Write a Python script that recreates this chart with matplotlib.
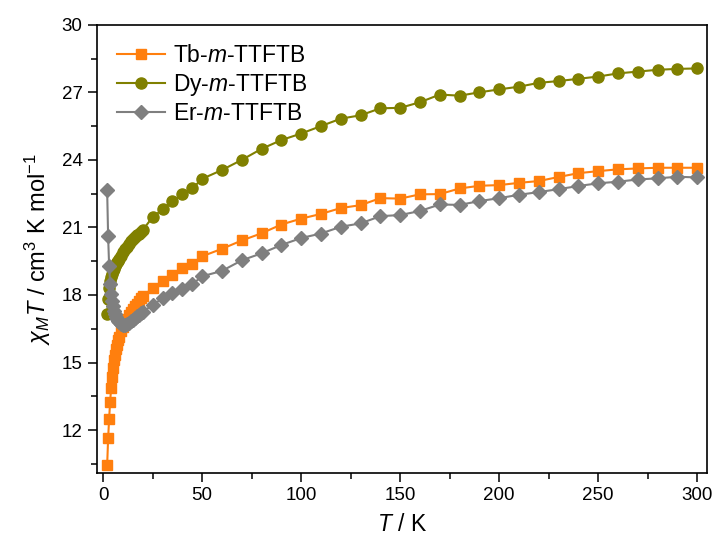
import matplotlib
matplotlib.use("Agg")
import matplotlib.pyplot as plt
from matplotlib.ticker import MultipleLocator

plt.rcParams["font.family"] = ["Liberation Sans", "DejaVu Sans"]
plt.rcParams["mathtext.fontset"] = "custom"
plt.rcParams["mathtext.rm"] = "Liberation Sans"
plt.rcParams["mathtext.it"] = "Liberation Sans:italic"
plt.rcParams["mathtext.bf"] = "Liberation Sans:bold"

# temperatures (K)
T = [2, 2.5, 3, 3.5, 4, 4.5, 5, 5.5, 6, 6.5, 7, 7.5, 8, 9, 10, 11, 12, 13, 14,
     15, 16, 17, 18, 19, 20, 25, 30, 35, 40, 45, 50, 60, 70, 80, 90, 100, 110,
     120, 130, 140, 150, 160, 170, 180, 190, 200, 210, 220, 230, 240, 250, 260,
     270, 280, 290, 300]

tb = [10.43, 11.64, 12.5, 13.25, 13.85, 14.35, 14.75, 15.1, 15.35, 15.6, 15.8,
      16.0, 16.15, 16.4, 16.6, 16.8, 16.95, 17.1, 17.25, 17.4, 17.5, 17.62,
      17.75, 17.85, 17.96, 18.29, 18.63, 18.9, 19.18, 19.38, 19.72, 20.05,
      20.42, 20.74, 21.13, 21.39, 21.6, 21.86, 21.99, 22.3, 22.28, 22.47,
      22.48, 22.73, 22.85, 22.88, 22.98, 23.06, 23.24, 23.41, 23.5, 23.58,
      23.62, 23.65, 23.65, 23.65]

dy = [17.15, 17.8, 18.3, 18.6, 18.8, 18.95, 19.07, 19.17, 19.27, 19.36, 19.45,
      19.53, 19.6, 19.75, 19.9, 20.03, 20.15, 20.27, 20.38, 20.48, 20.57,
      20.65, 20.73, 20.8, 20.89, 21.46, 21.8, 22.16, 22.48, 22.73, 23.16,
      23.55, 24.0, 24.49, 24.88, 25.17, 25.5, 25.83, 25.98, 26.29, 26.31,
      26.56, 26.9, 26.85, 27.0, 27.13, 27.25, 27.42, 27.5, 27.6, 27.7, 27.84,
      27.92, 28.0, 28.04, 28.06]

er = [22.66, 20.6, 19.3, 18.5, 18.05, 17.75, 17.5, 17.3, 17.15, 17.02, 16.92,
      16.85, 16.78, 16.7, 16.66, 16.66, 16.7, 16.76, 16.83, 16.9, 16.97,
      17.05, 17.12, 17.19, 17.25, 17.56, 17.85, 18.08, 18.27, 18.48, 18.83,
      19.07, 19.54, 19.85, 20.22, 20.53, 20.73, 21.03, 21.18, 21.5, 21.55,
      21.73, 22.02, 22.0, 22.17, 22.3, 22.45, 22.57, 22.7, 22.84, 22.96,
      23.03, 23.13, 23.18, 23.25, 23.22]

fig = plt.figure(figsize=(7.15, 5.38), dpi=100)
ax = fig.add_axes([0.136, 0.121, 0.853, 0.833])

ax.plot(T, tb, "-s", color="#FF7F0E", mec="#FF7F0E", ms=7, lw=1.5,
        label="Tb-$m$-TTFTB")
ax.plot(T, dy, "-o", color="#808000", mec="#808000", ms=8, lw=1.5,
        label="Dy-$m$-TTFTB")
ax.plot(T, er, "-D", color="#7F7F7F", mec="#7F7F7F", ms=7, lw=1.5,
        label="Er-$m$-TTFTB")

ax.set_xlim(-3, 305)
ax.set_ylim(10.1, 30)
ax.xaxis.set_major_locator(MultipleLocator(50))
ax.xaxis.set_minor_locator(MultipleLocator(25))
ax.yaxis.set_major_locator(MultipleLocator(3))
ax.yaxis.set_minor_locator(MultipleLocator(1.5))
ax.tick_params(which="both", direction="out", labelsize=13.5, pad=4)
ax.tick_params(which="major", length=6.5, width=1.1)
ax.tick_params(which="minor", length=4.5, width=1.1)
for s in ax.spines.values():
    s.set_linewidth(1.2)

ax.set_xlabel("$T$ / K", fontsize=16.5, labelpad=6)
ax.set_ylabel(r"$\chi_M T$ / cm$^3$ K mol$^{-1}$", fontsize=17, labelpad=6)

ax.legend(loc="upper left", frameon=False, fontsize=16.5, handlelength=2.1,
          borderaxespad=0.45, labelspacing=0.2, handletextpad=0.35)

fig.savefig("out.png", dpi=100)
